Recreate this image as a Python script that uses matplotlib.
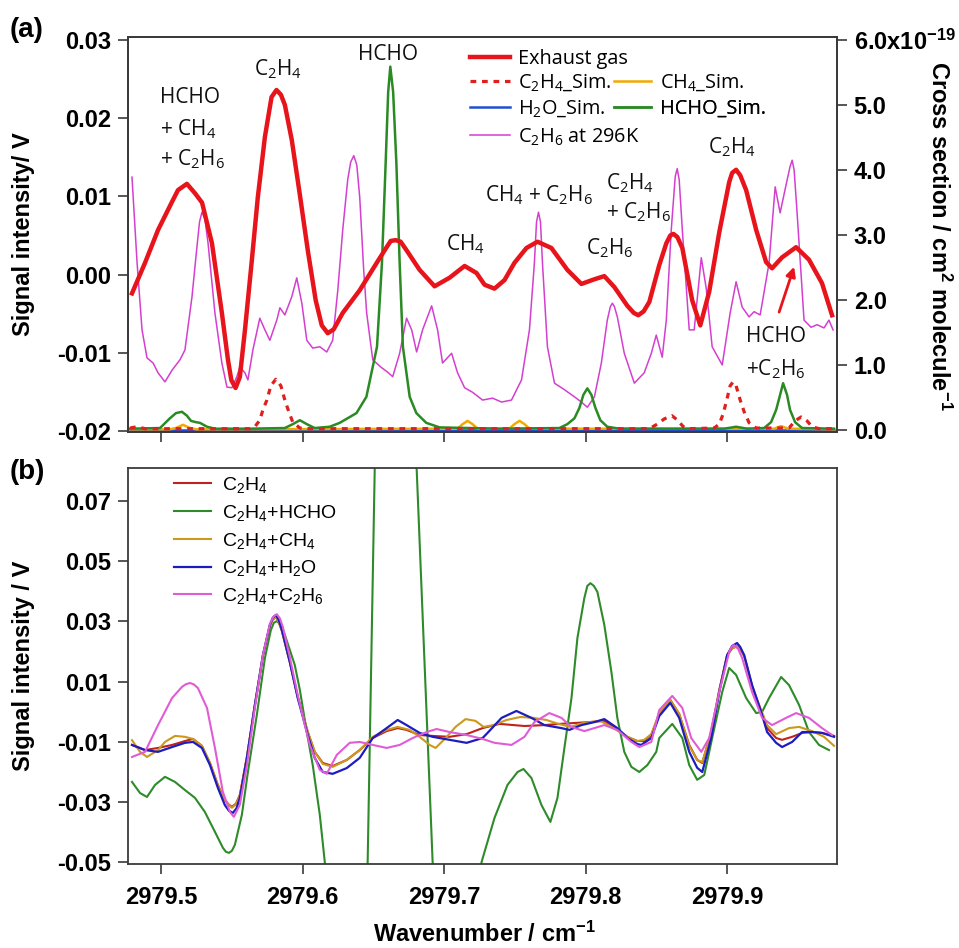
import matplotlib
matplotlib.use("Agg")
import matplotlib.pyplot as plt

plt.rcParams["font.family"] = ["Liberation Sans", "DejaVu Sans"]
plt.rcParams["font.weight"] = "bold"
plt.rcParams["mathtext.default"] = "regular"

# ---------------- panel (a): exhaust gas signal (left axis, V) ----------------
exhaust = [
    (2979.4795, -0.0024), (2979.4887, 0.0015), (2979.4979, 0.0057), (2979.5075, 0.0092),
    (2979.5120, 0.0108), (2979.5183, 0.0116), (2979.5240, 0.0104), (2979.5290, 0.0092),
    (2979.5360, 0.0040), (2979.5430, -0.0049), (2979.5473, -0.0109), (2979.5497, -0.0135),
    (2979.5527, -0.0145), (2979.5557, -0.0131), (2979.5593, -0.0071), (2979.5640, 0.0015),
    (2979.5684, 0.0099), (2979.5734, 0.0176), (2979.5781, 0.0227), (2979.5816, 0.0236),
    (2979.5847, 0.0230), (2979.5875, 0.0217), (2979.5924, 0.0172), (2979.5981, 0.0102),
    (2979.6037, 0.0031), (2979.6093, -0.0033), (2979.6136, -0.0065), (2979.6178, -0.0075),
    (2979.6220, -0.0070), (2979.6284, -0.0049), (2979.6404, -0.0020), (2979.6524, 0.0015),
    (2979.6594, 0.0035), (2979.6623, 0.0043), (2979.6658, 0.0044), (2979.6693, 0.0042),
    (2979.6735, 0.0031), (2979.6827, 0.0006), (2979.6933, -0.0015), (2979.7039, -0.0004),
    (2979.7145, 0.0011), (2979.7229, 0.0002), (2979.7286, -0.0013), (2979.7356, -0.0018),
    (2979.7427, -0.0007), (2979.7497, 0.0015), (2979.7582, 0.0034), (2979.7660, 0.0042),
    (2979.7758, 0.0034), (2979.7871, 0.0006), (2979.7970, -0.0012), (2979.8062, -0.0006),
    (2979.8132, -0.0002), (2979.8203, -0.0016), (2979.8295, -0.0040), (2979.8340, -0.0049),
    (2979.8372, -0.0052), (2979.8410, -0.0047), (2979.8450, -0.0035), (2979.8520, 0.0012),
    (2979.8570, 0.0040), (2979.8598, 0.0050), (2979.8620, 0.0052), (2979.8648, 0.0048),
    (2979.8683, 0.0034), (2979.8753, -0.0033), (2979.8810, -0.0065), (2979.8873, -0.0022),
    (2979.8944, 0.0054), (2979.9014, 0.0118), (2979.9035, 0.0130), (2979.9063, 0.0134),
    (2979.9092, 0.0127), (2979.9134, 0.0108), (2979.9205, 0.0057), (2979.9275, 0.0016),
    (2979.9317, 0.0008), (2979.9388, 0.0022), (2979.9487, 0.0035), (2979.9578, 0.0019),
    (2979.9670, -0.0011), (2979.9741, -0.0052),
]

# ---------------- panel (a): cross sections (right axis, 1e-19 cm2/molecule) ----------------
c2h6_296k = [
    (2979.4795, 3.89), (2979.4831, 2.57), (2979.4866, 1.54), (2979.4901, 1.11), (2979.4944, 1.03),
    (2979.4979, 0.88), (2979.5028, 0.74), (2979.5078, 0.92), (2979.5134, 1.08), (2979.5169, 1.23),
    (2979.5219, 2.05), (2979.5254, 2.82), (2979.5272, 3.20), (2979.5289, 3.35), (2979.5310, 3.25),
    (2979.5332, 2.88), (2979.5381, 1.80), (2979.5430, 1.03), (2979.5466, 0.66), (2979.5501, 0.65),
    (2979.5536, 0.82), (2979.5557, 0.97), (2979.5593, 0.88), (2979.5614, 0.77), (2979.5649, 1.23),
    (2979.5698, 1.72), (2979.5734, 1.54), (2979.5769, 1.38), (2979.5818, 1.69), (2979.5840, 1.88),
    (2979.5875, 1.77), (2979.5924, 2.05), (2979.5959, 2.34), (2979.5995, 1.95), (2979.6030, 1.38),
    (2979.6072, 1.26), (2979.6122, 1.28), (2979.6171, 1.20), (2979.6213, 1.38), (2979.6249, 2.15),
    (2979.6284, 3.08), (2979.6319, 3.85), (2979.6340, 4.12), (2979.6362, 4.22), (2979.6383, 4.08),
    (2979.6404, 3.58), (2979.6432, 2.46), (2979.6453, 1.80), (2979.6496, 1.08), (2979.6552, 0.97),
    (2979.6601, 0.89), (2979.6637, 0.82), (2979.6686, 1.18), (2979.6735, 1.72), (2979.6771, 1.54),
    (2979.6806, 1.20), (2979.6848, 1.54), (2979.6912, 1.91), (2979.6954, 1.54), (2979.6989, 1.03),
    (2979.7053, 1.18), (2979.7095, 0.88), (2979.7145, 0.65), (2979.7201, 0.58), (2979.7272, 0.46),
    (2979.7342, 0.49), (2979.7406, 0.43), (2979.7476, 0.46), (2979.7547, 0.77), (2979.7603, 1.54),
    (2979.7638, 2.57), (2979.7653, 3.20), (2979.7667, 3.35), (2979.7681, 3.20), (2979.7695, 2.57),
    (2979.7730, 1.28), (2979.7780, 0.72), (2979.7850, 0.62), (2979.7921, 0.51), (2979.7970, 0.43),
    (2979.8012, 0.35), (2979.8062, 0.51), (2979.8111, 1.03), (2979.8153, 1.69), (2979.8175, 1.90),
    (2979.8189, 1.95), (2979.8203, 1.90), (2979.8224, 1.74), (2979.8273, 1.18), (2979.8344, 0.72),
    (2979.8414, 0.88), (2979.8464, 1.18), (2979.8499, 1.46), (2979.8541, 1.12), (2979.8570, 1.69),
    (2979.8605, 3.08), (2979.8633, 3.90), (2979.8647, 4.02), (2979.8661, 3.85), (2979.8683, 3.08),
    (2979.8732, 1.54), (2979.8767, 1.54), (2979.8817, 2.65), (2979.8852, 2.18), (2979.8894, 1.28),
    (2979.8965, 1.00), (2979.9021, 1.80), (2979.9063, 2.28), (2979.9106, 1.89), (2979.9155, 1.74),
    (2979.9190, 1.82), (2979.9233, 1.77), (2979.9296, 2.57), (2979.9339, 3.74), (2979.9374, 3.34),
    (2979.9416, 3.77), (2979.9444, 4.05), (2979.9459, 4.15), (2979.9473, 4.00), (2979.9494, 3.34),
    (2979.9543, 1.69), (2979.9593, 1.58), (2979.9635, 1.62), (2979.9684, 1.57), (2979.9719, 1.69),
    (2979.9748, 1.54),
]

hcho_sim = [
    (2979.4781, 0.02), (2979.4993, 0.03), (2979.5063, 0.18), (2979.5106, 0.26), (2979.5148, 0.28),
    (2979.5183, 0.22), (2979.5212, 0.14), (2979.5247, 0.12), (2979.5275, 0.11), (2979.5325, 0.05),
    (2979.5381, 0.02), (2979.5628, 0.02), (2979.5875, 0.03), (2979.5931, 0.09), (2979.5981, 0.15),
    (2979.6030, 0.09), (2979.6086, 0.03), (2979.6192, 0.05), (2979.6263, 0.11), (2979.6381, 0.26),
    (2979.6451, 0.51), (2979.6526, 1.28), (2979.6561, 2.57), (2979.6587, 4.10), (2979.6605, 5.20),
    (2979.6620, 5.59), (2979.6640, 5.20), (2979.6663, 4.10), (2979.6686, 2.57), (2979.6709, 1.28),
    (2979.6757, 0.51), (2979.6804, 0.26), (2979.6874, 0.11), (2979.6968, 0.04), (2979.7392, 0.02),
    (2979.7815, 0.03), (2979.7871, 0.09), (2979.7921, 0.18), (2979.7956, 0.34), (2979.7984, 0.54),
    (2979.8012, 0.64), (2979.8041, 0.54), (2979.8069, 0.34), (2979.8104, 0.15), (2979.8153, 0.05),
    (2979.8238, 0.02), (2979.8979, 0.02), (2979.9063, 0.05), (2979.9141, 0.02), (2979.9261, 0.03),
    (2979.9310, 0.12), (2979.9346, 0.31), (2979.9374, 0.54), (2979.9395, 0.72), (2979.9423, 0.54),
    (2979.9444, 0.31), (2979.9480, 0.12), (2979.9529, 0.03), (2979.9755, 0.02),
]

c2h4_sim = [
    (2979.4781, 0.03), (2979.4830, 0.05), (2979.4887, 0.02), (2979.5628, 0.02), (2979.5663, 0.05),
    (2979.5698, 0.15), (2979.5720, 0.31), (2979.5748, 0.46), (2979.5776, 0.68), (2979.5811, 0.78),
    (2979.5847, 0.68), (2979.5875, 0.46), (2979.5903, 0.28), (2979.5931, 0.12), (2979.5981, 0.03),
    (2979.6051, 0.02), (2979.8450, 0.02), (2979.8506, 0.09), (2979.8555, 0.17), (2979.8610, 0.22),
    (2979.8650, 0.15), (2979.8690, 0.05), (2979.8730, 0.02), (2979.8908, 0.03), (2979.8944, 0.09),
    (2979.8972, 0.25), (2979.9000, 0.49), (2979.9021, 0.68), (2979.9042, 0.74), (2979.9063, 0.68),
    (2979.9092, 0.46), (2979.9120, 0.28), (2979.9155, 0.11), (2979.9205, 0.03), (2979.9437, 0.03),
    (2979.9480, 0.14), (2979.9522, 0.20), (2979.9564, 0.14), (2979.9600, 0.05), (2979.9649, 0.02),
    (2979.9755, 0.02),
]

ch4_sim = [
    (2979.4781, 0.01), (2979.5060, 0.01), (2979.5106, 0.03), (2979.5155, 0.08), (2979.5205, 0.03),
    (2979.5250, 0.01), (2979.7095, 0.02), (2979.7131, 0.09), (2979.7166, 0.14), (2979.7201, 0.09),
    (2979.7236, 0.02), (2979.7462, 0.02), (2979.7497, 0.09), (2979.7533, 0.14), (2979.7568, 0.09),
    (2979.7603, 0.02), (2979.9332, 0.02), (2979.9381, 0.06), (2979.9430, 0.02), (2979.9755, 0.01),
]

h2o_sim = [
    (2979.4781, 0.0), (2979.6000, 0.0), (2979.8000, 0.0), (2979.9755, 0.0),
]

# ---------------- panel (b): residual spectra (V) ----------------
res_c2h4 = [
    (2979.4795, -0.0111), (2979.4887, -0.0128), (2979.4979, -0.0121), (2979.5078, -0.0111),
    (2979.5169, -0.0098), (2979.5226, -0.0091), (2979.5289, -0.0114), (2979.5346, -0.0171),
    (2979.5402, -0.0244), (2979.5451, -0.0294), (2979.5480, -0.0310), (2979.5501, -0.0317),
    (2979.5530, -0.0306), (2979.5557, -0.0277), (2979.5607, -0.0151), (2979.5663, 0.0022),
    (2979.5720, 0.0185), (2979.5769, 0.0285), (2979.5790, 0.0306), (2979.5811, 0.0314),
    (2979.5832, 0.0298), (2979.5854, 0.0268), (2979.5910, 0.0165), (2979.5966, 0.0049),
    (2979.6037, -0.0068), (2979.6086, -0.0134), (2979.6143, -0.0171), (2979.6213, -0.0181),
    (2979.6312, -0.0161), (2979.6404, -0.0128), (2979.6496, -0.0088), (2979.6594, -0.0065),
    (2979.6672, -0.0055), (2979.6735, -0.0061), (2979.6827, -0.0078), (2979.6919, -0.0081),
    (2979.7039, -0.0084), (2979.7159, -0.0075), (2979.7272, -0.0055), (2979.7392, -0.0041),
    (2979.7568, -0.0048), (2979.7709, -0.0045), (2979.7815, -0.0041), (2979.7921, -0.0038),
    (2979.8026, -0.0035), (2979.8132, -0.0031), (2979.8224, -0.0058), (2979.8295, -0.0084),
    (2979.8365, -0.0098), (2979.8414, -0.0098), (2979.8464, -0.0078), (2979.8520, -0.0008),
    (2979.8598, 0.0039), (2979.8661, -0.0008), (2979.8732, -0.0111), (2979.8788, -0.0161),
    (2979.8824, -0.0171), (2979.8887, -0.0068), (2979.8944, 0.0072), (2979.9000, 0.0188),
    (2979.9035, 0.0210), (2979.9070, 0.0218), (2979.9092, 0.0207), (2979.9120, 0.0185),
    (2979.9176, 0.0085), (2979.9240, -0.0001), (2979.9282, -0.0055), (2979.9346, -0.0088),
    (2979.9388, -0.0094), (2979.9459, -0.0084), (2979.9530, -0.0071), (2979.9600, -0.0068),
    (2979.9670, -0.0071), (2979.9755, -0.0081),
]

res_c2h4_hcho = [
    (2979.4795, -0.0234), (2979.4852, -0.0271), (2979.4901, -0.0284), (2979.4958, -0.0244),
    (2979.5028, -0.0217), (2979.5099, -0.0234), (2979.5169, -0.0261), (2979.5240, -0.0287),
    (2979.5310, -0.0334), (2979.5381, -0.0400), (2979.5437, -0.0453), (2979.5458, -0.0466),
    (2979.5480, -0.0470), (2979.5501, -0.0463), (2979.5522, -0.0443), (2979.5571, -0.0344),
    (2979.5614, -0.0201), (2979.5677, -0.0011), (2979.5734, 0.0178), (2979.5776, 0.0271),
    (2979.5797, 0.0295), (2979.5818, 0.0301), (2979.5847, 0.0288), (2979.5875, 0.0255),
    (2979.5945, 0.0155), (2979.5981, 0.0072), (2979.6030, -0.0068), (2979.6072, -0.0178),
    (2979.6122, -0.0344), (2979.6157, -0.0500), (2979.6192, -0.0660), (2979.6270, -0.0800),
    (2979.6350, -0.0840), (2979.6410, -0.0800), (2979.6440, -0.0680), (2979.6460, -0.0500),
    (2979.6510, 0.0810), (2979.6545, 0.1250), (2979.6587, 0.1550), (2979.6623, 0.1600),
    (2979.6665, 0.1500), (2979.6735, 0.1150), (2979.6806, 0.0810), (2979.6862, 0.0160),
    (2979.6919, -0.0500), (2979.6968, -0.0800), (2979.7039, -0.1000), (2979.7110, -0.1000),
    (2979.7180, -0.0800), (2979.7265, -0.0500), (2979.7356, -0.0354), (2979.7448, -0.0244),
    (2979.7519, -0.0201), (2979.7561, -0.0191), (2979.7617, -0.0221), (2979.7688, -0.0311),
    (2979.7751, -0.0367), (2979.7801, -0.0287), (2979.7850, -0.0121), (2979.7900, 0.0045),
    (2979.7942, 0.0245), (2979.7991, 0.0378), (2979.8012, 0.0418), (2979.8034, 0.0427),
    (2979.8058, 0.0418), (2979.8083, 0.0398), (2979.8132, 0.0288), (2979.8182, 0.0132),
    (2979.8224, -0.0021), (2979.8273, -0.0134), (2979.8323, -0.0184), (2979.8379, -0.0201),
    (2979.8436, -0.0178), (2979.8499, -0.0134), (2979.8520, -0.0088), (2979.8612, -0.0041),
    (2979.8683, -0.0088), (2979.8732, -0.0178), (2979.8788, -0.0227), (2979.8838, -0.0211),
    (2979.8894, -0.0088), (2979.8965, 0.0065), (2979.9014, 0.0145), (2979.9063, 0.0122),
    (2979.9134, 0.0045), (2979.9205, -0.0005), (2979.9247, -0.0001), (2979.9296, 0.0045),
    (2979.9381, 0.0115), (2979.9437, 0.0088), (2979.9508, 0.0022), (2979.9578, -0.0068),
    (2979.9649, -0.0111), (2979.9719, -0.0128),
]

res_c2h4_ch4 = [
    (2979.4795, -0.0095), (2979.4852, -0.0134), (2979.4901, -0.0151), (2979.4979, -0.0128),
    (2979.5028, -0.0101), (2979.5099, -0.0081), (2979.5169, -0.0084), (2979.5226, -0.0091),
    (2979.5289, -0.0114), (2979.5346, -0.0171), (2979.5402, -0.0247), (2979.5451, -0.0294),
    (2979.5480, -0.0312), (2979.5501, -0.0320), (2979.5530, -0.0308), (2979.5557, -0.0280),
    (2979.5607, -0.0151), (2979.5663, 0.0019), (2979.5720, 0.0185), (2979.5769, 0.0285),
    (2979.5790, 0.0306), (2979.5811, 0.0314), (2979.5832, 0.0298), (2979.5854, 0.0268),
    (2979.5910, 0.0165), (2979.5966, 0.0049), (2979.6037, -0.0068), (2979.6086, -0.0134),
    (2979.6143, -0.0174), (2979.6213, -0.0184), (2979.6312, -0.0161), (2979.6404, -0.0128),
    (2979.6496, -0.0084), (2979.6594, -0.0061), (2979.6672, -0.0051), (2979.6756, -0.0061),
    (2979.6827, -0.0084), (2979.6898, -0.0111), (2979.6940, -0.0121), (2979.7011, -0.0088),
    (2979.7081, -0.0051), (2979.7152, -0.0025), (2979.7222, -0.0031), (2979.7279, -0.0051),
    (2979.7349, -0.0045), (2979.7441, -0.0028), (2979.7540, -0.0018), (2979.7631, -0.0021),
    (2979.7723, -0.0028), (2979.7808, -0.0041), (2979.7892, -0.0051), (2979.7984, -0.0038),
    (2979.8104, -0.0031), (2979.8196, -0.0055), (2979.8295, -0.0084), (2979.8365, -0.0098),
    (2979.8414, -0.0094), (2979.8464, -0.0075), (2979.8520, -0.0005), (2979.8598, 0.0039),
    (2979.8661, -0.0008), (2979.8732, -0.0114), (2979.8788, -0.0161), (2979.8824, -0.0168),
    (2979.8887, -0.0071), (2979.8944, 0.0068), (2979.9000, 0.0188), (2979.9035, 0.0210),
    (2979.9070, 0.0218), (2979.9092, 0.0207), (2979.9120, 0.0185), (2979.9176, 0.0085),
    (2979.9240, 0.0005), (2979.9282, -0.0045), (2979.9346, -0.0075), (2979.9437, -0.0055),
    (2979.9508, -0.0051), (2979.9600, -0.0065), (2979.9684, -0.0084), (2979.9755, -0.0114),
]

res_c2h4_h2o = [
    (2979.4795, -0.0111), (2979.4887, -0.0128), (2979.4979, -0.0134), (2979.5078, -0.0118),
    (2979.5169, -0.0104), (2979.5226, -0.0101), (2979.5289, -0.0121), (2979.5346, -0.0178),
    (2979.5402, -0.0254), (2979.5451, -0.0311), (2979.5480, -0.0330), (2979.5508, -0.0337),
    (2979.5533, -0.0322), (2979.5557, -0.0287), (2979.5607, -0.0154), (2979.5663, 0.0022),
    (2979.5720, 0.0188), (2979.5769, 0.0288), (2979.5790, 0.0312), (2979.5811, 0.0321),
    (2979.5832, 0.0305), (2979.5854, 0.0271), (2979.5910, 0.0165), (2979.5966, 0.0045),
    (2979.6037, -0.0078), (2979.6086, -0.0154), (2979.6143, -0.0201), (2979.6213, -0.0207),
    (2979.6312, -0.0188), (2979.6404, -0.0154), (2979.6496, -0.0088), (2979.6594, -0.0055),
    (2979.6672, -0.0028), (2979.6735, -0.0045), (2979.6827, -0.0071), (2979.6919, -0.0084),
    (2979.7039, -0.0094), (2979.7159, -0.0104), (2979.7272, -0.0088), (2979.7307, -0.0071),
    (2979.7406, -0.0021), (2979.7511, 0.0002), (2979.7617, -0.0021), (2979.7709, -0.0045),
    (2979.7829, -0.0055), (2979.7885, -0.0061), (2979.7970, -0.0045), (2979.8062, -0.0035),
    (2979.8132, -0.0025), (2979.8224, -0.0055), (2979.8295, -0.0088), (2979.8365, -0.0108),
    (2979.8393, -0.0111), (2979.8464, -0.0088), (2979.8520, -0.0015), (2979.8598, 0.0029),
    (2979.8661, -0.0021), (2979.8732, -0.0134), (2979.8788, -0.0187), (2979.8824, -0.0201),
    (2979.8887, -0.0088), (2979.8944, 0.0065), (2979.9000, 0.0188), (2979.9035, 0.0218),
    (2979.9070, 0.0228), (2979.9092, 0.0215), (2979.9120, 0.0188), (2979.9176, 0.0088),
    (2979.9240, -0.0001), (2979.9282, -0.0068), (2979.9346, -0.0104), (2979.9388, -0.0118),
    (2979.9459, -0.0101), (2979.9530, -0.0068), (2979.9600, -0.0068), (2979.9670, -0.0071),
    (2979.9755, -0.0084),
]

res_c2h4_c2h6 = [
    (2979.4795, -0.0151), (2979.4887, -0.0134), (2979.4979, -0.0045), (2979.5078, 0.0045),
    (2979.5148, 0.0082), (2979.5176, 0.0091), (2979.5205, 0.0095), (2979.5233, 0.0090),
    (2979.5261, 0.0078), (2979.5325, 0.0012), (2979.5381, -0.0121), (2979.5437, -0.0267),
    (2979.5487, -0.0334), (2979.5515, -0.0350), (2979.5557, -0.0310), (2979.5607, -0.0178),
    (2979.5663, 0.0012), (2979.5720, 0.0188), (2979.5769, 0.0291), (2979.5793, 0.0315),
    (2979.5818, 0.0324), (2979.5840, 0.0310), (2979.5861, 0.0281), (2979.5910, 0.0181),
    (2979.5966, 0.0055), (2979.6016, -0.0045), (2979.6051, -0.0111), (2979.6122, -0.0194),
    (2979.6171, -0.0207), (2979.6242, -0.0144), (2979.6333, -0.0104), (2979.6404, -0.0101),
    (2979.6496, -0.0111), (2979.6594, -0.0121), (2979.6686, -0.0111), (2979.6778, -0.0088),
    (2979.6877, -0.0068), (2979.6947, -0.0058), (2979.7039, -0.0068), (2979.7159, -0.0078),
    (2979.7272, -0.0091), (2979.7356, -0.0104), (2979.7476, -0.0111), (2979.7568, -0.0084),
    (2979.7638, -0.0035), (2979.7744, -0.0005), (2979.7829, -0.0021), (2979.7899, -0.0051),
    (2979.7991, -0.0065), (2979.8132, -0.0045), (2979.8224, -0.0061), (2979.8323, -0.0101),
    (2979.8379, -0.0118), (2979.8464, -0.0101), (2979.8520, 0.0005), (2979.8612, 0.0052),
    (2979.8683, 0.0012), (2979.8746, -0.0088), (2979.8817, -0.0134), (2979.8873, -0.0088),
    (2979.8944, 0.0065), (2979.9014, 0.0198), (2979.9030, 0.0215), (2979.9049, 0.0221),
    (2979.9078, 0.0208), (2979.9106, 0.0178), (2979.9176, 0.0065), (2979.9247, -0.0021),
    (2979.9317, -0.0045), (2979.9416, -0.0021), (2979.9487, -0.0005), (2979.9578, -0.0021),
    (2979.9670, -0.0055), (2979.9741, -0.0078),
]

# axis ranges and ticks
x_range = (2979.4767, 2979.9776)
x_ticks = [2979.5, 2979.6, 2979.7, 2979.8, 2979.9]
a_ylim = (-0.02013, 0.03038)
a_yticks = [-0.02, -0.01, 0.0, 0.01, 0.02, 0.03]
a_ytick_labels = ["-0.02", "-0.01", "0.00", "0.01", "0.02", "0.03"]
cs_ylim = (-0.031, 6.046)
cs_yticks = [0, 1, 2, 3, 4, 5, 6]
cs_ytick_labels = ["0.0", "1.0", "2.0", "3.0", "4.0", "5.0", r"6.0x10$^{-19}$"]
b_ylim = (-0.0507, 0.081)
b_yticks = [-0.05, -0.03, -0.01, 0.01, 0.03, 0.05, 0.07]
b_ytick_labels = ["-0.05", "-0.03", "-0.01", "0.01", "0.03", "0.05", "0.07"]


def xy(pairs):
    return [p[0] for p in pairs], [p[1] for p in pairs]


SPINE = "#3a3a3a"
ANNOT = dict(family=["Open Sans", "DejaVu Sans"], fontweight="normal", fontsize=15, color="#111111")


def style_axes(ax):
    for sp in ax.spines.values():
        sp.set_color(SPINE)
        sp.set_linewidth(1.3)
    ax.tick_params(direction="out", length=7, width=1.2, color=SPINE,
                   labelsize=17, pad=5)


fig = plt.figure(figsize=(9.59, 9.48), dpi=100)

# ---------------- (a) ----------------
ax_a = fig.add_axes([0.1335, 0.5443, 0.7393, 0.4167])
ax_cs = ax_a.twinx()
ax_a.set_zorder(ax_cs.get_zorder() + 1)
ax_a.patch.set_visible(False)

l_c2h6, = ax_cs.plot(*xy(c2h6_296k), color="#d43fd0", lw=1.1, solid_joinstyle="round")
l_h2o, = ax_cs.plot(*xy(h2o_sim), color="#2050d0", lw=1.8)
l_ch4, = ax_cs.plot(*xy(ch4_sim), color="#f2a900", lw=1.8)
l_hcho, = ax_cs.plot(*xy(hcho_sim), color="#2a8a24", lw=1.8, solid_joinstyle="round")
l_c2h4, = ax_cs.plot(*xy(c2h4_sim), color="#e0201c", lw=2.3, linestyle=(0, (1.8, 1.8)))
l_exh, = ax_a.plot(*xy(exhaust), color="#e8141b", lw=3.2, solid_joinstyle="round")

ax_a.set_xlim(*x_range)
ax_a.set_ylim(*a_ylim)
ax_cs.set_ylim(*cs_ylim)
ax_a.set_xticks(x_ticks)
ax_a.set_yticks(a_yticks)
ax_a.set_yticklabels(a_ytick_labels)
ax_cs.set_yticks(cs_yticks)
ax_cs.set_yticklabels(cs_ytick_labels)
style_axes(ax_a)
style_axes(ax_cs)
ax_a.tick_params(axis="x", labelbottom=False)

# peak assignments
ax_a.text(2979.4993, 0.0219, "HCHO", ha="left", va="baseline", **ANNOT)
ax_a.text(2979.4993, 0.0178, r"+ $CH_4$", ha="left", va="baseline", **ANNOT)
ax_a.text(2979.4993, 0.0140, r"+ $C_2H_6$", ha="left", va="baseline", **ANNOT)
ax_a.text(2979.5825, 0.0255, r"$C_2H_4$", ha="center", va="baseline", **ANNOT)
ax_a.text(2979.6601, 0.0274, "HCHO", ha="center", va="baseline", **ANNOT)
ax_a.text(2979.7152, 0.0031, r"$CH_4$", ha="center", va="baseline", **ANNOT)
ax_a.text(2979.7674, 0.0094, r"$CH_4$ + $C_2H_6$", ha="center", va="baseline", **ANNOT)
ax_a.text(2979.8146, 0.0109, r"$C_2H_4$", ha="left", va="baseline", **ANNOT)
ax_a.text(2979.8146, 0.0072, r"+ $C_2H_6$", ha="left", va="baseline", **ANNOT)
ax_a.text(2979.8168, 0.0026, r"$C_2H_6$", ha="center", va="baseline", **ANNOT)
ax_a.text(2979.9035, 0.0155, r"$C_2H_4$", ha="center", va="baseline", **ANNOT)
ax_a.text(2979.9134, -0.0086, "HCHO", ha="left", va="baseline", **ANNOT)
ax_a.text(2979.9134, -0.0129, r"+$C_2H_6$", ha="left", va="baseline", **ANNOT)
ax_a.annotate("", xy=(2979.9473, 0.0010), xytext=(2979.9367, -0.0048),
              arrowprops=dict(arrowstyle="-|>", color="#e8141b", lw=2.0,
                              mutation_scale=14, shrinkA=0, shrinkB=0))

# legend of panel (a): one entry per legend box so each row sits where it should
leg_prop = dict(family=["Open Sans", "DejaVu Sans"], weight="normal", size=14.3)
legend_rows = [
    (l_exh, "Exhaust gas", 0.4824, 0.944, 2.01, 0.40),
    (l_c2h4, r"$C_2H_4$_Sim.", 0.4824, 0.884, 2.01, 0.40),
    (l_h2o, r"$H_2O$_Sim.", 0.4824, 0.818, 2.01, 0.40),
    (l_c2h6, r"$C_2H_6$ at 296K", 0.4824, 0.747, 2.01, 0.40),
    (l_ch4, r"$CH_4$_Sim.", 0.6854, 0.884, 1.85, 0.48),
    (l_hcho, "HCHO_Sim.", 0.6854, 0.818, 1.85, 0.48),
]
for handle, label, lx, ly, hlen, hpad in legend_rows:
    leg = ax_a.legend([handle], [label], loc="center left", bbox_to_anchor=(lx, ly),
                      frameon=False, prop=leg_prop, handlelength=hlen,
                      handletextpad=hpad, borderpad=0, borderaxespad=0)
    ax_a.add_artist(leg)

# ---------------- (b) ----------------
ax_b = fig.add_axes([0.1335, 0.0886, 0.7393, 0.4177])
lb1, = ax_b.plot(*xy(res_c2h4), color="#c0221c", lw=1.5, solid_joinstyle="round")
lb2, = ax_b.plot(*xy(res_c2h4_hcho), color="#2e8b2a", lw=1.5, solid_joinstyle="round")
lb3, = ax_b.plot(*xy(res_c2h4_ch4), color="#cc981e", lw=1.5, solid_joinstyle="round")
lb4, = ax_b.plot(*xy(res_c2h4_h2o), color="#1c1cc0", lw=1.6, solid_joinstyle="round")
lb5, = ax_b.plot(*xy(res_c2h4_c2h6), color="#e05cd6", lw=1.5, solid_joinstyle="round")
ax_b.set_xlim(*x_range)
ax_b.set_ylim(*b_ylim)
ax_b.set_xticks(x_ticks)
ax_b.set_xticklabels([f"{t:.1f}" for t in x_ticks])
ax_b.set_yticks(b_yticks)
ax_b.set_yticklabels(b_ytick_labels)
style_axes(ax_b)
ax_b.tick_params(axis="x", pad=9)
ax_b.legend([lb1, lb2, lb3, lb4, lb5],
            [r"$C_2H_4$", r"$C_2H_4$+HCHO", r"$C_2H_4$+$CH_4$", r"$C_2H_4$+$H_2O$", r"$C_2H_4$+$C_2H_6$"],
            loc="upper left", bbox_to_anchor=(0.065, 0.982), frameon=False,
            prop=dict(family=["Liberation Sans"], weight="normal", size=14),
            handlelength=1.9, handletextpad=0.55, labelspacing=0.4,
            borderpad=0, borderaxespad=0)

# ---------------- axis titles and panel letters ----------------
fig.text(24 / 959, 1 - 234.5 / 948, "Signal intensity/ V", rotation=90,
         ha="center", va="center", fontsize=17)
fig.text(24 / 959, 1 - 666 / 948, "Signal intensity / V", rotation=90,
         ha="center", va="center", fontsize=17)
fig.text(939 / 959, 1 - 236 / 948, r"Cross section / cm$^2$ molecule$^{-1}$",
         rotation=270, ha="center", va="center", fontsize=17)
fig.text(484 / 959, 1 - 942 / 948, r"Wavenumber / cm$^{-1}$",
         ha="center", va="baseline", fontsize=17)
fig.text(10 / 959, 1 - 30 / 948, "(a)", ha="left", va="center", fontsize=20)
fig.text(10 / 959, 1 - 472 / 948, "(b)", ha="left", va="center", fontsize=20)

fig.savefig("out.png", dpi=100)
